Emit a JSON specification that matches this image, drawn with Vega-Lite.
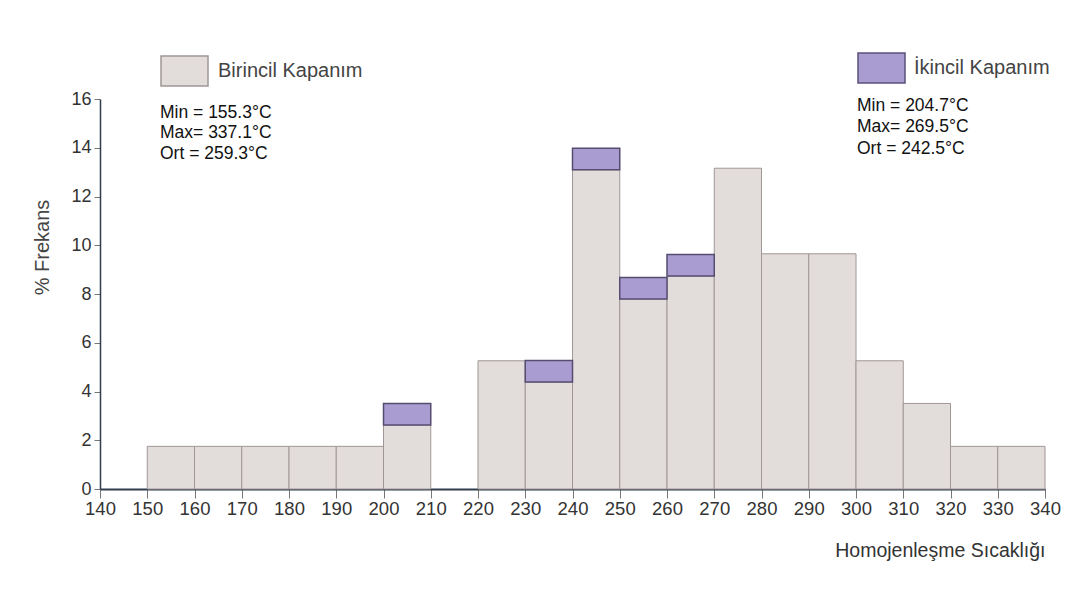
{
  "$schema": "https://vega.github.io/schema/vega-lite/v6.json",
  "width": 945,
  "height": 390,
  "autosize": {"type": "none"},
  "padding": {"left": 100, "top": 99, "right": 44, "bottom": 102},
  "background": "#ffffff",
  "config": {
    "view": {"stroke": null},
    "font": "Liberation Sans",
    "axis": {"labelFont": "Liberation Sans", "titleFont": "Liberation Sans", "grid": false},
    "legend": {"labelFont": "Liberation Sans", "titleFont": "Liberation Sans"}
  },
  "data": {
    "values": [
      {"lo": 150, "hi": 160, "type": "Birincil Kapanım", "value": 1.75},
      {"lo": 160, "hi": 170, "type": "Birincil Kapanım", "value": 1.75},
      {"lo": 170, "hi": 180, "type": "Birincil Kapanım", "value": 1.75},
      {"lo": 180, "hi": 190, "type": "Birincil Kapanım", "value": 1.75},
      {"lo": 190, "hi": 200, "type": "Birincil Kapanım", "value": 1.75},
      {"lo": 200, "hi": 210, "type": "Birincil Kapanım", "value": 2.63},
      {"lo": 200, "hi": 210, "type": "İkincil Kapanım", "value": 0.88},
      {"lo": 220, "hi": 230, "type": "Birincil Kapanım", "value": 5.26},
      {"lo": 230, "hi": 240, "type": "Birincil Kapanım", "value": 4.39},
      {"lo": 230, "hi": 240, "type": "İkincil Kapanım", "value": 0.88},
      {"lo": 240, "hi": 250, "type": "Birincil Kapanım", "value": 13.1},
      {"lo": 240, "hi": 250, "type": "İkincil Kapanım", "value": 0.88},
      {"lo": 250, "hi": 260, "type": "Birincil Kapanım", "value": 7.8},
      {"lo": 250, "hi": 260, "type": "İkincil Kapanım", "value": 0.88},
      {"lo": 260, "hi": 270, "type": "Birincil Kapanım", "value": 8.74},
      {"lo": 260, "hi": 270, "type": "İkincil Kapanım", "value": 0.88},
      {"lo": 270, "hi": 280, "type": "Birincil Kapanım", "value": 13.16},
      {"lo": 280, "hi": 290, "type": "Birincil Kapanım", "value": 9.65},
      {"lo": 290, "hi": 300, "type": "Birincil Kapanım", "value": 9.65},
      {"lo": 300, "hi": 310, "type": "Birincil Kapanım", "value": 5.26},
      {"lo": 310, "hi": 320, "type": "Birincil Kapanım", "value": 3.51},
      {"lo": 320, "hi": 330, "type": "Birincil Kapanım", "value": 1.75},
      {"lo": 330, "hi": 340, "type": "Birincil Kapanım", "value": 1.75}
    ]
  },
  "encoding": {
    "x": {
      "field": "lo",
      "type": "quantitative",
      "scale": {"domain": [140, 340], "nice": false, "zero": false},
      "axis": {
        "title": "Homojenleşme Sıcaklığı",
        "values": [140, 150, 160, 170, 180, 190, 200, 210, 220, 230, 240, 250, 260, 270, 280, 290, 300, 310, 320, 330, 340],
        "format": "d",
        "labelFlush": false,
        "labelOverlap": false,
        "domainColor": "#2f3d4c",
        "domainWidth": 2,
        "tickColor": "#777777",
        "tickSize": 9,
        "labelFontSize": 18.5,
        "labelColor": "#333333",
        "labelPadding": 1,
        "titleAnchor": "end",
        "titleFontSize": 19.5,
        "titleFontWeight": "normal",
        "titleColor": "#333333",
        "titlePadding": 24
      }
    },
    "x2": {"field": "hi"}
  },
  "layer": [
    {
      "transform": [{"filter": "datum.type === 'Birincil Kapanım'"}],
      "mark": {"type": "bar", "stroke": "#a09696", "strokeWidth": 1},
      "encoding": {
        "y": {
          "field": "value",
          "type": "quantitative",
          "stack": null,
          "scale": {"domain": [0, 16], "nice": false, "padding": 0},
          "axis": {
            "title": "% Frekans",
            "values": [0, 2, 4, 6, 8, 10, 12, 14, 16],
            "domainColor": "#2f3d4c",
            "domainWidth": 1.5,
            "tickColor": "#777777",
            "tickSize": 6,
            "labelFontSize": 18,
            "labelColor": "#333333",
            "labelPadding": 3,
            "titleFontSize": 20,
            "titleFontWeight": "normal",
            "titleColor": "#444444",
            "titleY": 148,
            "titlePadding": 18
          }
        },
        "y2": {"datum": 0},
        "fill": {
          "field": "type",
          "type": "nominal",
          "scale": {"domain": ["Birincil Kapanım"], "range": ["#e2dddb"]},
          "legend": {
            "orient": "none",
            "legendX": 60,
            "legendY": -52.5,
            "title": ["Min = 155.3°C", "Max= 337.1°C", "Ort = 259.3°C"],
            "titleOrient": "bottom",
            "titleAnchor": "start",
            "titleAlign": "left",
            "titleFontSize": 17.5,
            "titleFontWeight": "normal",
            "titleColor": "#111111",
            "titleLineHeight": 20.5,
            "titlePadding": 15,
            "symbolType": "M-1,-0.638H1V0.638H-1Z",
            "symbolSize": 2209,
            "symbolStrokeColor": "#a09696",
            "symbolStrokeWidth": 1.5,
            "symbolOpacity": 1,
            "labelFontSize": 20,
            "labelColor": "#444444",
            "labelOffset": 9
          }
        }
      }
    },
    {
      "transform": [
        {"stack": "value", "groupby": ["lo"], "sort": [{"field": "type", "order": "ascending"}], "as": ["v0", "v1"]},
        {"filter": "datum.type === 'İkincil Kapanım'"}
      ],
      "mark": {"type": "bar", "stroke": "#554c70", "strokeWidth": 1.5},
      "encoding": {
        "y": {
          "field": "v0",
          "type": "quantitative",
          "scale": {"domain": [0, 16], "nice": false, "padding": 0},
          "axis": {
            "title": "% Frekans",
            "values": [0, 2, 4, 6, 8, 10, 12, 14, 16],
            "domainColor": "#2f3d4c",
            "domainWidth": 1.5,
            "tickColor": "#777777",
            "tickSize": 6,
            "labelFontSize": 18,
            "labelColor": "#333333",
            "labelPadding": 3,
            "titleFontSize": 20,
            "titleFontWeight": "normal",
            "titleColor": "#444444",
            "titleY": 148,
            "titlePadding": 18
          }
        },
        "y2": {"field": "v1"},
        "color": {
          "field": "type",
          "type": "nominal",
          "scale": {"domain": ["İkincil Kapanım"], "range": ["#a99cd0"]},
          "legend": {
            "orient": "none",
            "legendX": 757,
            "legendY": -55.5,
            "title": ["Min = 204.7°C", "Max= 269.5°C", "Ort = 242.5°C"],
            "titleOrient": "bottom",
            "titleAnchor": "start",
            "titleAlign": "left",
            "titleFontSize": 17.5,
            "titleFontWeight": "normal",
            "titleColor": "#111111",
            "titleLineHeight": 21.5,
            "titlePadding": 11,
            "symbolType": "M-1,-0.638H1V0.638H-1Z",
            "symbolSize": 2209,
            "symbolStrokeColor": "#5a5078",
            "symbolStrokeWidth": 1.5,
            "symbolOpacity": 1,
            "labelFontSize": 20,
            "labelColor": "#444444",
            "labelOffset": 8
          }
        }
      }
    }
  ]
}
